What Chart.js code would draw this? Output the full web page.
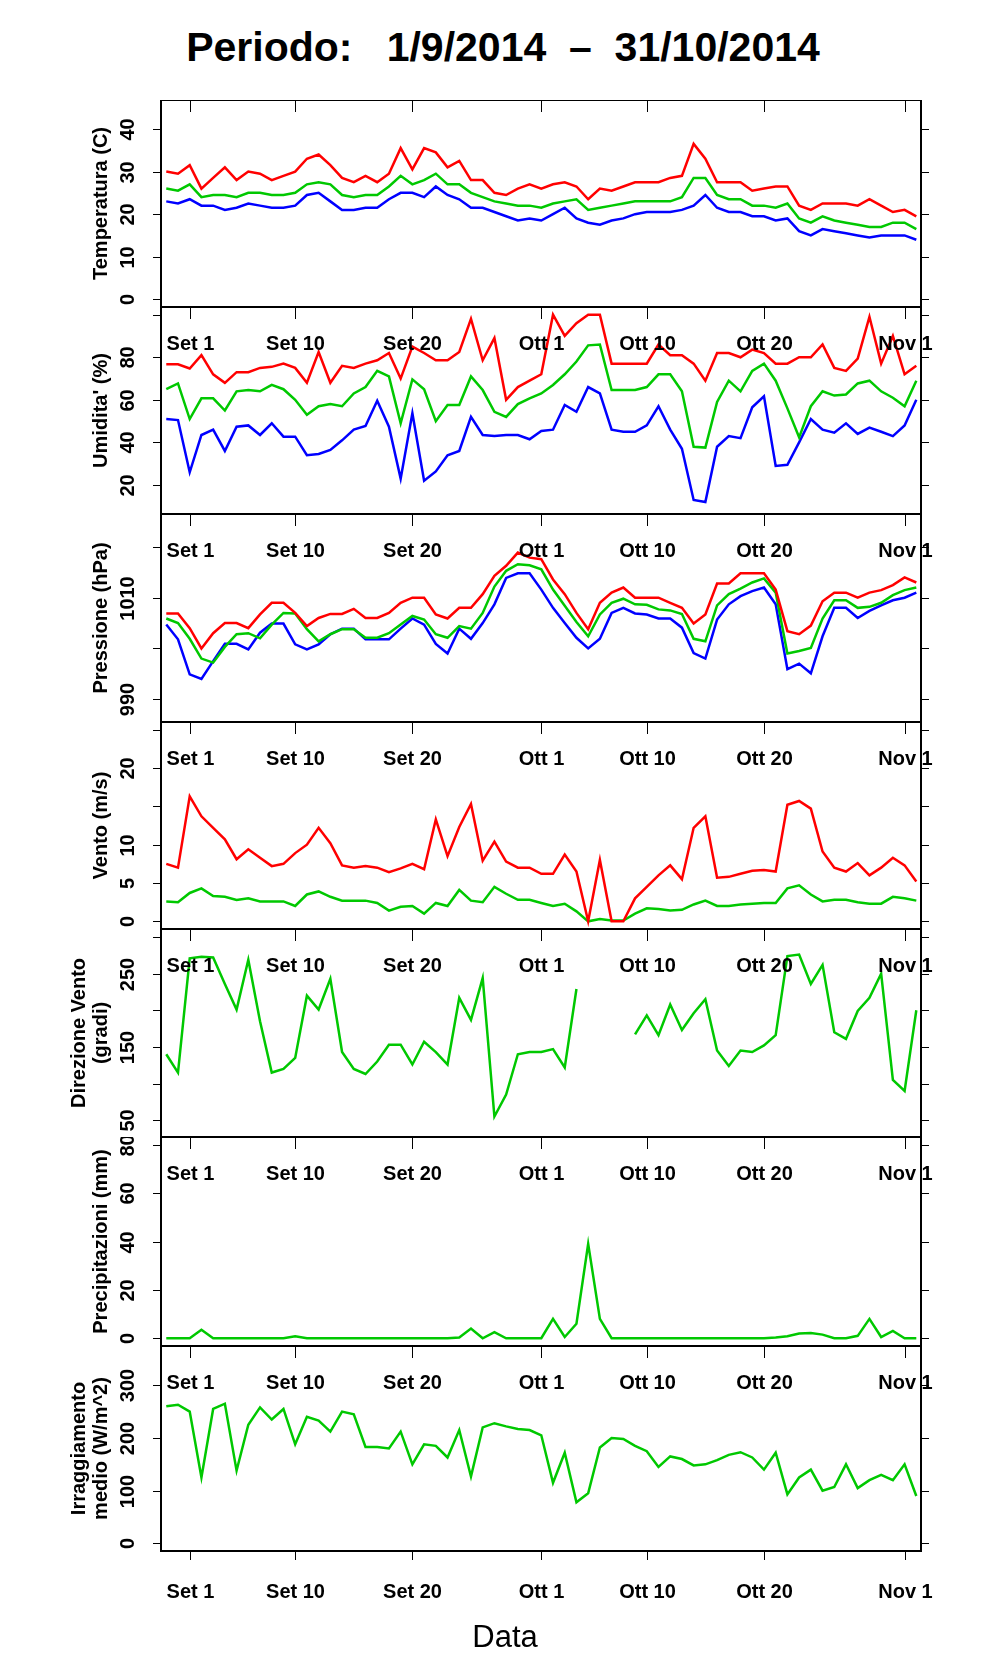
<!DOCTYPE html>
<html>
<head>
<meta charset="utf-8">
<script src="https://cdn.jsdelivr.net/npm/chart.js@4.4.1/dist/chart.umd.min.js"></script>
<style>
  body { margin: 0; background: #fff; width: 996px; height: 1680px; position: relative; overflow: hidden; }
  #titolo { position: absolute; left: 0; width: 1006px; top: 24px; text-align: center; white-space: pre;
    font: bold 41px "Liberation Sans", Arial, sans-serif; color: #000; }
  canvas { position: absolute; left: 0; }
</style>
</head>
<body>
<div id="titolo">Periodo:   1/9/2014  –  31/10/2014</div>

<script>
// giorni: 0 = 1 settembre 2014
const giorni = [-2,-1,0,1,2,3,4,5,6,7,8,9,10,11,12,13,14,15,16,17,18,19,20,21,22,23,24,25,26,27,28,29,30,
  31,32,33,34,35,36,37,38,39,40,41,42,43,44,45,46,47,48,49,50,51,52,53,54,55,56,57,58,59,60,61,62];
const tickGiorni = [0, 9, 19, 30, 39, 49, 61];
const tickEtichette = ["Set 1", "Set 10", "Set 20", "Ott 1", "Ott 10", "Ott 20", "Nov 1"];

const tempMax = [30,29.5,31.5,26,28.5,31,28,30,29.5,28,29,30,33,34,31.5,28.5,27.5,29,27.5,29.5,35.5,30.5,35.5,34.5,31,32.5,28,28,25,24.5,26,27,26,
  27,27.5,26.5,23.5,26,25.5,26.5,27.5,27.5,27.5,28.5,29,36.5,33,27.5,27.5,27.5,25.5,26,26.5,26.5,22,21,22.5,22.5,22.5,22,23.5,22,20.5,21,19.5];
const tempMed = [26,25.5,27,24,24.5,24.5,24,25,25,24.5,24.5,25,27,27.5,27,24.5,24,24.5,24.5,26.5,29,27,28,29.5,27,27,25,24,23,22.5,22,22,21.5,
  22.5,23,23.5,21,21.5,22,22.5,23,23,23,23,24,28.5,28.5,24.5,23.5,23.5,22,22,21.5,22.5,19,18,19.5,18.5,18,17.5,17,17,18,18,16.5];
const tempMin = [23,22.5,23.5,22,22,21,21.5,22.5,22,21.5,21.5,22,24.5,25,23,21,21,21.5,21.5,23.5,25,25,24,26.5,24.5,23.5,21.5,21.5,20.5,19.5,18.5,19,18.5,
  20,21.5,19,18,17.5,18.5,19,20,20.5,20.5,20.5,21,22,24.5,21.5,20.5,20.5,19.5,19.5,18.5,19,16,15,16.5,16,15.5,15,14.5,15,15,15,14];

const umidMax = [76.7,76.7,74.7,81,72,68,73,73,75,75.5,77,75,68,82.5,68,76,75,77,78.6,82,70,85,82,78.6,78.6,82.5,98,78.6,89,60,66,69,
  72,100,90,96,100,100,77,77,77,77,86,81,81,77,69,82,82,80,83.6,82,77,77,80,80,86,75,73.6,79.4,99,77,90,72,76];
const umidMed = [65,67.7,51,60.7,60.7,55,64,64.6,64,67,65,60,53,57,58,57,63,66,73.6,71,49,69.6,65,50,57.6,57.6,71,64.6,54.4,52,58,60.7,
  63,67,72,78,85.6,86,64.6,64.6,64.6,66,72,72,64,38,37.6,59,69,64,73.6,77,69,56,42.4,57,64,62,62.5,67.7,69,64,61,57,69];
const umidMin = [51,50.5,26,43.5,46,36,47.4,48,43.5,49,42.7,42.7,34,34.6,36.5,41,46,47.7,59.6,47.4,23,53.7,22,26.4,34,36,52,43.5,43,43.5,43.5,41.5,
  45.4,46,57.6,54.4,66,63,46,45,45,48,57,46,37,13,12,38,43,42,56.5,61.7,29,29.5,40,51,46,44.6,49,44,47,45,43,48,60];

const pressMax = [1006.9,1006.9,1004,1000,1003,1005,1005,1004,1006.7,1009,1009,1007,1004.4,1006,1006.8,1006.8,1007.8,1006,1006,1007,1009,1010,
  1010,1006.7,1005.9,1008,1008,1010.7,1014.3,1016.3,1018.9,1017.9,1017.6,1013.6,1010.7,1007,1003.8,1009,1011,1012,1010,1010,
  1010,1009,1008,1004.9,1006.7,1012.8,1012.8,1014.8,1014.8,1014.8,1011.6,1003.4,1002.8,1004.5,1009.3,1011,1011,1010,1011,1011.5,1012.5,1014,1013];
const pressMed = [1005.9,1005,1001.9,998,997.2,1000.3,1002.8,1003,1002,1004.7,1007,1006.9,1003.8,1001.4,1002.8,1003.8,1003.8,1002.1,1002.1,1003,1004.7,1006.4,
  1005.7,1002.8,1002.1,1004.4,1003.9,1007,1012.2,1015.3,1016.6,1016.4,1015.6,1011.6,1008.4,1005.2,1002.4,1006.7,1009,1009.8,1008.7,1008.6,
  1007.7,1007.5,1006.8,1001.9,1001.4,1008.5,1010.7,1011.8,1013,1013.8,1011,999,999.5,1000.1,1005.9,1009.5,1009.5,1008,1008.2,1009,1010.5,1011.5,1012];
const pressMin = [1004.7,1001.8,994.9,994,997.5,1000.9,1000.9,999.8,1003.1,1004.9,1004.9,1000.8,999.8,1000.8,1002.8,1003.9,1003.9,1001.8,1001.8,1001.8,1003.9,1005.9,
  1004.7,1000.9,999,1003.9,1001.9,1005,1008.7,1013.9,1014.8,1014.8,1011.6,1008,1005,1002.1,1000,1001.9,1007,1008,1006.9,1006.7,
  1005.9,1005.9,1004.1,999.1,998,1005.7,1008.7,1010.3,1011.3,1012,1008.7,995.9,997,995.1,1002.4,1008,1008,1006,1007.4,1008.5,1009.5,1010,1011];

const ventoMax = [7.5,7,16.3,13.7,12.2,10.7,8.1,9.4,8.3,7.2,7.5,8.9,10,12.2,10.2,7.3,7,7.2,7,6.4,6.9,7.5,6.8,13.3,8.5,12.3,15.3,7.9,10.4,7.8,7,7,
  6.2,6.2,8.7,6.5,0,8,0,0,3,4.5,6,7.3,5.5,12.2,13.7,5.7,5.8,6.2,6.6,6.7,6.5,15.2,15.7,14.7,9.1,7,6.5,7.6,6,7,8.3,7.3,5.2];
const ventoMed = [2.6,2.5,3.7,4.3,3.3,3.2,2.8,3,2.6,2.6,2.6,2,3.5,3.9,3.2,2.7,2.7,2.7,2.4,1.4,1.9,2,1,2.4,2,4.1,2.7,2.5,4.5,3.6,2.8,2.8,
  2.4,2,2.3,1.3,0,0.3,0.1,0.1,1,1.7,1.6,1.4,1.5,2.2,2.7,2,2,2.2,2.3,2.4,2.4,4.3,4.7,3.5,2.6,2.8,2.8,2.5,2.3,2.3,3.2,3,2.7];

const direzione = [140,115,271,273,272,236,201,269,185,115,120,135,220,201,243,143,120,113,130,153,153,126,157,143,126,217,187,244,55,85,140,143,
  143,147,122,229,null,null,null,null,167,193,166,208,173,196,215,145,124,145,143,152,166,274,276,236,262,170,161,199,217,250,105,90,200];

const pioggia = [0,0,0,3.5,0,0,0,0,0,0,0,0.8,0,0,0,0,0,0,0,0,0,0,0,0,0,0.3,4,0,2.5,0,0,0,
  0,8,0.5,6,39,8,0,0,0,0,0,0,0,0,0,0,0,0,0,0,0.3,0.8,2,2.2,1.5,0,0,1,8,0.5,3,0,0];

const irraggiamento = [260,263,250,125,255,265,138,225,258,235,255,188,240,233,212,250,245,183,183,180,212,150,188,185,163,215,127,220,228,222,217,215,
  205,115,172,78,95,182,200,198,185,175,145,165,160,148,150,158,168,173,163,140,172,93,125,140,100,107,150,105,120,130,120,150,90];

const ROSSO = "#ff0000", VERDE = "#00c800", BLU = "#0000ff";
const FONT = '"Liberation Sans", Arial, sans-serif';

const pannelli = [
  { titolo: ["Temperatura (C)"], min: -1.8, max: 46.8, ticks: [0,10,20,30,40], etichette: [0,10,20,30,40],
    serie: [[tempMax, ROSSO], [tempMed, VERDE], [tempMin, BLU]] },
  { titolo: ["Umidita' (%)"], min: 6.4, max: 103.6, ticks: [20,40,60,80,100], etichette: [20,40,60,80],
    serie: [[umidMax, ROSSO], [umidMed, VERDE], [umidMin, BLU]] },
  { titolo: ["Pressione (hPa)"], min: 985.5, max: 1026.5, ticks: [990,1000,1010,1020], etichette: [990,1010],
    serie: [[pressMax, ROSSO], [pressMed, VERDE], [pressMin, BLU]] },
  { titolo: ["Vento (m/s)"], min: -1, max: 26, ticks: [0,5,10,15,20,25], etichette: [0,5,10,20],
    serie: [[ventoMax, ROSSO], [ventoMed, VERDE]] },
  { titolo: ["Direzione Vento", "(gradi)"], min: 27, max: 311, ticks: [50,100,150,200,250,300], etichette: [50,150,250],
    serie: [[direzione, VERDE]] },
  { titolo: ["Precipitazioni (mm)"], min: -3.2, max: 83.2, ticks: [0,20,40,60,80], etichette: [0,20,40,60,80],
    serie: [[pioggia, VERDE]] },
  { titolo: ["Irraggiamento", "medio (W/m^2)"], min: -14.4, max: 374.4, ticks: [0,100,200,300], etichette: [0,100,200,300],
    serie: [[irraggiamento, VERDE]] }
];

const bordi = [100, 307, 514, 722, 929, 1137, 1346, 1551];
const SINISTRA = 161, DESTRA = 921, LARGH = 996;

const cornice = {
  id: "cornice",
  afterDatasetsDraw(chart, args, opts) {
    const ctx = chart.ctx, a = chart.chartArea, x = chart.scales.x, y = chart.scales.y;
    const p = opts.pannello;
    ctx.save();
    ctx.strokeStyle = "#000";
    ctx.fillStyle = "#000";
    ctx.lineWidth = 2;
    ctx.strokeRect(a.left, a.top, a.right - a.left, a.bottom - a.top);
    ctx.lineWidth = 1;
    ctx.font = "bold 20px " + FONT;
    ctx.textAlign = "center";
    ctx.textBaseline = "middle";
    tickGiorni.forEach((g, i) => {
      const px = Math.round(x.getPixelForValue(g)) + 0.5;
      ctx.beginPath();
      ctx.moveTo(px, a.top); ctx.lineTo(px, a.top + 12);
      if (opts.ultimo) { ctx.moveTo(px, a.bottom); ctx.lineTo(px, a.bottom + 9); }
      ctx.stroke();
      if (opts.indice > 0) ctx.fillText(tickEtichette[i], px, a.top + 37);
      if (opts.ultimo) ctx.fillText(tickEtichette[i], px, a.bottom + 41);
    });
    p.ticks.forEach(v => {
      const py = Math.round(y.getPixelForValue(v)) + 0.5;
      ctx.beginPath();
      ctx.moveTo(a.left - 8, py); ctx.lineTo(a.left, py);
      ctx.moveTo(a.right, py); ctx.lineTo(a.right + 8, py);
      ctx.stroke();
      if (p.etichette.includes(v)) {
        ctx.save();
        ctx.translate(128, py);
        ctx.rotate(-Math.PI / 2);
        ctx.fillText(String(v), 0, 0);
        ctx.restore();
      }
    });
    const cy = (a.top + a.bottom) / 2;
    const righe = p.titolo;
    righe.forEach((t, i) => {
      const cx = righe.length === 1 ? 101 : 79 + i * 22;
      ctx.save();
      ctx.translate(cx, cy);
      ctx.rotate(-Math.PI / 2);
      ctx.fillText(t, 0, 0);
      ctx.restore();
    });
    if (opts.ultimo) {
      ctx.font = "31px " + FONT;
      ctx.fillText("Data", 505, a.bottom + 87);
    }
    ctx.restore();
  }
};

pannelli.forEach((p, i) => {
  const top = bordi[i], alto = bordi[i + 1] - bordi[i];
  const ultimo = i === pannelli.length - 1;
  const extra = ultimo ? 125 : 0;
  const canvas = document.createElement("canvas");
  canvas.width = LARGH;
  canvas.height = alto + extra;
  canvas.style.top = top + "px";
  document.body.appendChild(canvas);

  new Chart(canvas.getContext("2d"), {
    type: "line",
    data: {
      labels: giorni,
      datasets: p.serie.map(([valori, colore]) => ({
        data: giorni.map((g, k) => ({ x: g, y: valori[k] })),
        borderColor: colore,
        borderWidth: 2.5,
        pointRadius: 0,
        tension: 0,
        spanGaps: false,
        clip: 0
      }))
    },
    options: {
      responsive: false,
      animation: false,
      devicePixelRatio: 1,
      layout: { padding: { left: SINISTRA, right: LARGH - DESTRA, top: 0, bottom: extra } },
      scales: {
        x: { type: "linear", min: -2.45, max: 62.4, display: false },
        y: { min: p.min, max: p.max, display: false }
      },
      plugins: {
        legend: { display: false },
        tooltip: { enabled: false },
        cornice: { pannello: p, indice: i, ultimo: ultimo }
      }
    },
    plugins: [cornice]
  });
});
</script>
</body>
</html>
